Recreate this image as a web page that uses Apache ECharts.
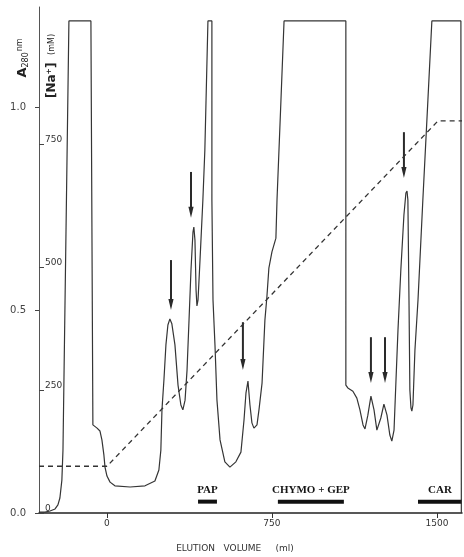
<!DOCTYPE html>
<html><head><meta charset="utf-8">
<script src="https://cdn.jsdelivr.net/npm/echarts@6/dist/echarts.min.js"></script>
<style>html,body{margin:0;padding:0;background:#fff}#c{width:464px;height:557px}</style>
</head><body><div id="c"></div>
<script>
// Elution profile (A280) — volume in ml, absorbance
const volume = [-309,-282,-259,-236,-223,-214,-205,-200,-173,-73,-64,-45,-32,-23,-14,-9,0,14,36,105,173,218,236,245,250,259,268,277,286,295,309,323,336,345,355,364,373,382,391,395,400,405,409,414,423,436,445,459,477,477,482,491,500,514,536,559,586,609,623,632,641,650,659,668,682,691,705,718,727,736,750,768,773,791,805,1086,1086,1086,1095,1118,1136,1150,1164,1173,1186,1200,1214,1227,1232,1245,1259,1273,1286,1295,1305,1314,1323,1336,1350,1359,1364,1368,1373,1377,1382,1386,1391,1400,1414,1436,1459,1477,1609,1611];
const absorbance = [0.002,0.002,0.005,0.010,0.020,0.037,0.081,0.155,1.212,1.212,0.217,0.209,0.202,0.180,0.143,0.113,0.091,0.076,0.067,0.064,0.067,0.079,0.106,0.155,0.254,0.328,0.414,0.463,0.478,0.466,0.414,0.315,0.266,0.254,0.278,0.352,0.475,0.599,0.692,0.704,0.672,0.549,0.510,0.525,0.623,0.771,0.894,1.212,1.212,0.771,0.525,0.414,0.278,0.180,0.126,0.113,0.126,0.150,0.229,0.296,0.325,0.266,0.222,0.209,0.217,0.254,0.320,0.475,0.532,0.603,0.643,0.677,0.771,1.017,1.212,1.212,0.525,0.315,0.308,0.300,0.283,0.254,0.217,0.207,0.241,0.288,0.254,0.204,0.200,0.234,0.268,0.241,0.192,0.177,0.204,0.328,0.451,0.599,0.734,0.788,0.793,0.771,0.525,0.303,0.259,0.251,0.266,0.401,0.525,0.771,1.017,1.212,1.212,0.000];

// Na+ gradient (mM)
const gradientVolume = [-309, 0, 1505, 1614];
const gradientNa = [95, 95, 797, 797];

// Axis ticks
const xTicks = [0, 750, 1500];
const aTicks = [0, 0.5, 1.0];
const naTicks = [0, 250, 500, 750];

// Arrows marking peaks (volume, arrow start A, arrow tip A)
const arrowVolume = [291, 382, 618, 1200, 1264, 1350];
const arrowTop = [0.623, 0.840, 0.470, 0.433, 0.433, 0.938];
const arrowTip = [0.500, 0.727, 0.352, 0.320, 0.320, 0.825];

// Pooled fractions
const fractionNames = ['PAP', 'CHYMO + GEP', 'CAR'];
const fractionStart = [414, 777, 1414];
const fractionEnd = [500, 1077, 1614];
const fractionLevel = [0.028, 0.028, 0.028];

const chart = echarts.init(document.getElementById('c'), null, {renderer: 'canvas'});
const LINE = '#353535';
const SANS = '"DejaVu Sans", sans-serif';

chart.setOption({
  animation: false,
  backgroundColor: '#fff',
  grid: {left: 39, right: 2, top: 7, bottom: 44},
  xAxis: {
    type: 'value', min: -309, max: 1614,
    axisLine: {onZero: false, lineStyle: {color: '#222', width: 1.5}},
    axisTick: {show: true, customValues: xTicks, length: 5, lineStyle: {color: '#333'}},
    axisLabel: {customValues: xTicks, fontSize: 9, fontFamily: SANS, color: '#333', margin: 6,
      formatter: v => String(v)},
    splitLine: {show: false}
  },
  yAxis: [{
    type: 'value', min: 0, max: 1.2463, position: 'left',
    axisLine: {show: true, onZero: false, lineStyle: {color: '#555', width: 1}},
    axisTick: {show: true, customValues: aTicks, length: 4, lineStyle: {color: '#444'}},
    axisLabel: {customValues: aTicks, fontSize: 10, fontFamily: SANS, color: '#444', margin: 13,
      formatter: v => v.toFixed(1)},
    splitLine: {show: false}
  }, {
    type: 'value', min: 0, max: 1028.5, position: 'left',
    axisLine: {show: false, onZero: false},
    axisTick: {show: true, inside: true, customValues: naTicks, length: 5, lineStyle: {color: '#444'}},
    axisLabel: {inside: true, customValues: naTicks, fontSize: 9, fontFamily: SANS, color: '#333',
      margin: 6, verticalAlign: 'bottom'},
    splitLine: {show: false}
  }],
  series: [{
    type: 'line', name: 'A280',
    data: volume.map((v, i) => [v, absorbance[i]]),
    showSymbol: false, symbol: 'none', smooth: false, clip: false,
    lineStyle: {color: LINE, width: 1.2}
  }, {
    type: 'line', name: 'Na', yAxisIndex: 1,
    data: gradientVolume.map((v, i) => [v, gradientNa[i]]),
    showSymbol: false, symbol: 'none',
    lineStyle: {color: '#333', width: 1.3, type: [5, 4]}
  }, {
    type: 'custom', name: 'arrows', clip: false,
    data: arrowVolume.map((v, i) => [v, arrowTop[i], arrowTip[i]]),
    encode: {x: 0, y: [1, 2]},
    renderItem: function (params, api) {
      const top = api.coord([api.value(0), api.value(1)]);
      const tip = api.coord([api.value(0), api.value(2)]);
      const headLen = 11, headW = 2.6;
      return {type: 'group', children: [
        {type: 'line', shape: {x1: top[0], y1: top[1], x2: tip[0], y2: tip[1] - headLen + 1},
          style: {stroke: '#2a2a2a', lineWidth: 2}},
        {type: 'polygon', shape: {points: [[tip[0] - headW, tip[1] - headLen], [tip[0] + headW, tip[1] - headLen], [tip[0], tip[1]]]},
          style: {fill: '#2a2a2a'}}
      ]};
    }
  }, {
    type: 'custom', name: 'fractions', clip: false,
    data: fractionNames.map((n, i) => [fractionStart[i], fractionEnd[i], fractionLevel[i]]),
    encode: {x: [0, 1], y: 2},
    renderItem: function (params, api) {
      const a = api.coord([api.value(0), api.value(2)]);
      const b = api.coord([api.value(1), api.value(2)]);
      return {type: 'group', children: [
        {type: 'rect', shape: {x: a[0], y: a[1] - 2, width: b[0] - a[0], height: 4}, style: {fill: '#111'}},
        {type: 'text', x: (a[0] + b[0]) / 2, y: a[1] - 6,
          style: {text: fractionNames[params.dataIndex], font: 'bold 11px "Liberation Serif", serif',
            fill: '#151515', align: 'center', verticalAlign: 'bottom'}}
      ]};
    }
  }],
  graphic: [{
    type: 'text', x: 23, y: 58, rotation: Math.PI / 2,
    style: {
      text: '{a|A}{s|280}{n|nm}', align: 'center', verticalAlign: 'middle',
      rich: {
        a: {fontSize: 13, fontFamily: SANS, fill: '#222', fontWeight: 'bold'},
        s: {fontSize: 8, fontFamily: SANS, fill: '#222', padding: [6, 0, 0, 0]},
        n: {fontSize: 8, fontFamily: SANS, fill: '#222', padding: [0, 0, 6, 1]}
      }
    }
  }, {
    type: 'text', x: 52, y: 66, rotation: Math.PI / 2,
    style: {
      text: '{b|[Na⁺]}{m|   (mM)}', align: 'center', verticalAlign: 'middle',
      rich: {
        b: {fontSize: 12, fontFamily: SANS, fill: '#222', fontWeight: 'bold'},
        m: {fontSize: 8, fontFamily: SANS, fill: '#222'}
      }
    }
  }, {
    type: 'text', x: 235, y: 549,
    style: {text: 'ELUTION   VOLUME     (ml)', font: '9px "DejaVu Sans", sans-serif', fill: '#333',
      align: 'center', verticalAlign: 'middle'}
  }]
});
</script>
</body></html>
